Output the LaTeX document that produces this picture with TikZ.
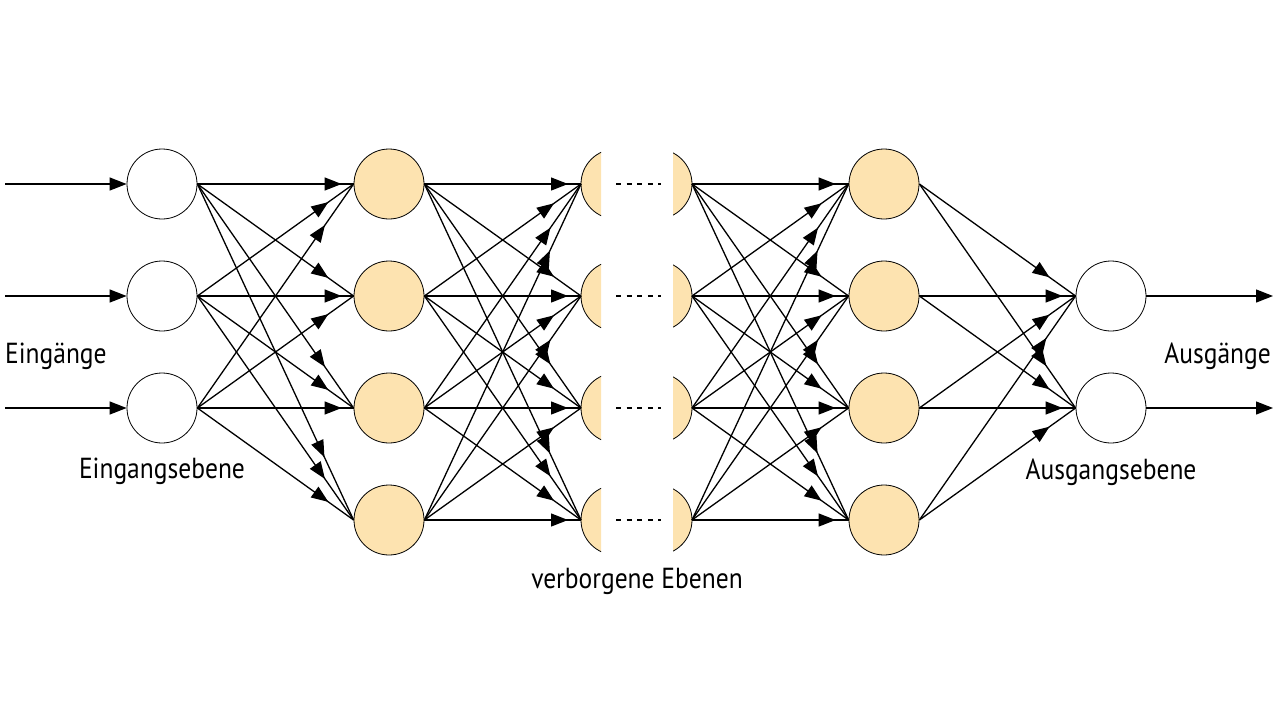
\documentclass[tikz,border=0pt]{standalone}
\usepackage{fontspec}
\setmainfont{PT Sans}[FakeStretch=0.88]
\usetikzlibrary{arrows.meta,decorations.markings}
\definecolor{nfill}{RGB}{253,227,176}
\begin{document}
\begin{tikzpicture}[x=1pt,y=-1pt,
  neuron/.style={circle,draw=black,line width=0.8pt,minimum size=70pt,inner sep=0pt},
  inneuron/.style={neuron,fill=white},
  hidneuron/.style={neuron,fill=nfill},
  conn/.style={line width=1.3pt,-{Triangle[length=17pt,width=13pt]}},
  wire/.style={line width=1.3pt,postaction={decorate},
    decoration={markings,mark=at position -#1 with {\arrow{Triangle[length=17pt,width=13pt]}}}},
  halfarc/.style={draw=black,line width=0.8pt,fill=nfill},
  dotline/.style={line width=1.8pt,dash pattern=on 5pt off 5.6pt},
  lbl/.style={font=\fontsize{29}{34}\selectfont,inner sep=0pt}]
\useasboundingbox (0,0) rectangle (1280,721);
% input layer
\foreach \i/\y in {1/184,2/296,3/408}{
  \node[inneuron] (i\i) at (162,\y) {};
  \coordinate (in\i) at (5,\y);
}
% hidden layer 1
\foreach \j/\y in {1/184,2/296,3/408,4/520}{
  \node[hidneuron] (a\j) at (389,\y) {};
}
% hidden layer 2 (cut halves)
\foreach \j/\y in {1/184,2/296,3/408,4/520}{
  \coordinate (bL\j) at (581,\y);
  \coordinate (bR\j) at (692,\y);
  \begin{scope}
    \clip (560,\y-40) rectangle (601,\y+40);
    \path[halfarc] (616,\y) circle (35);
  \end{scope}
  \begin{scope}
    \clip (673,\y-40) rectangle (715,\y+40);
    \path[halfarc] (657,\y) circle (35);
  \end{scope}
  \coordinate (dA\j) at (616,\y);
  \coordinate (dB\j) at (661,\y);
  \draw[dotline] (dA\j) -- (dB\j);
}
% hidden layer 3
\foreach \j/\y in {1/184,2/296,3/408,4/520}{
  \node[hidneuron] (c\j) at (884,\y) {};
}
% output layer
\foreach \k/\y in {1/296,2/408}{
  \node[inneuron] (o\k) at (1111,\y) {};
  \coordinate (out\k) at (1273,\y);
}
% connections
\foreach \i/\ys in {1/184,2/296,3/408}{
  \draw[conn] (in\i) -- (i\i.west);
  \foreach \t/\yt in {1/184,2/296,3/408,4/520}{
    \pgfmathsetmacro\sh{12+0.17*abs(\yt-\ys)}
    \draw[wire=\sh pt] (i\i.east) -- (a\t.west);
  }
}
\foreach \s/\ys in {1/184,2/296,3/408,4/520}{
  \foreach \t/\yt in {1/184,2/296,3/408,4/520}{
    \pgfmathsetmacro\sh{13+0.18*abs(\yt-\ys)}
    \draw[wire=\sh pt] (a\s.east) -- (bL\t);
    \draw[wire=\sh pt] (bR\s) -- (c\t.west);
  }
  \foreach \t/\yt in {1/296,2/408}{
    \pgfmathsetmacro\sh{13+0.17*abs(\yt-\ys)}
    \draw[wire=\sh pt] (c\s.east) -- (o\t.west);
  }
}
\foreach \k in {1,2}{\draw[conn] (o\k.east) -- (out\k);}
% labels
\node[lbl,anchor=base west] (l1) at (5,363) {Eingänge};
\node[lbl,anchor=base] (l2) at (162,478) {Eingangsebene};
\node[lbl,anchor=base] (l3) at (637,588) {verborgene Ebenen};
\node[lbl,anchor=base east] (l4) at (1271,363) {Ausgänge};
\node[lbl,anchor=base] (l5) at (1111,479) {Ausgangsebene};
\end{tikzpicture}
\end{document}
